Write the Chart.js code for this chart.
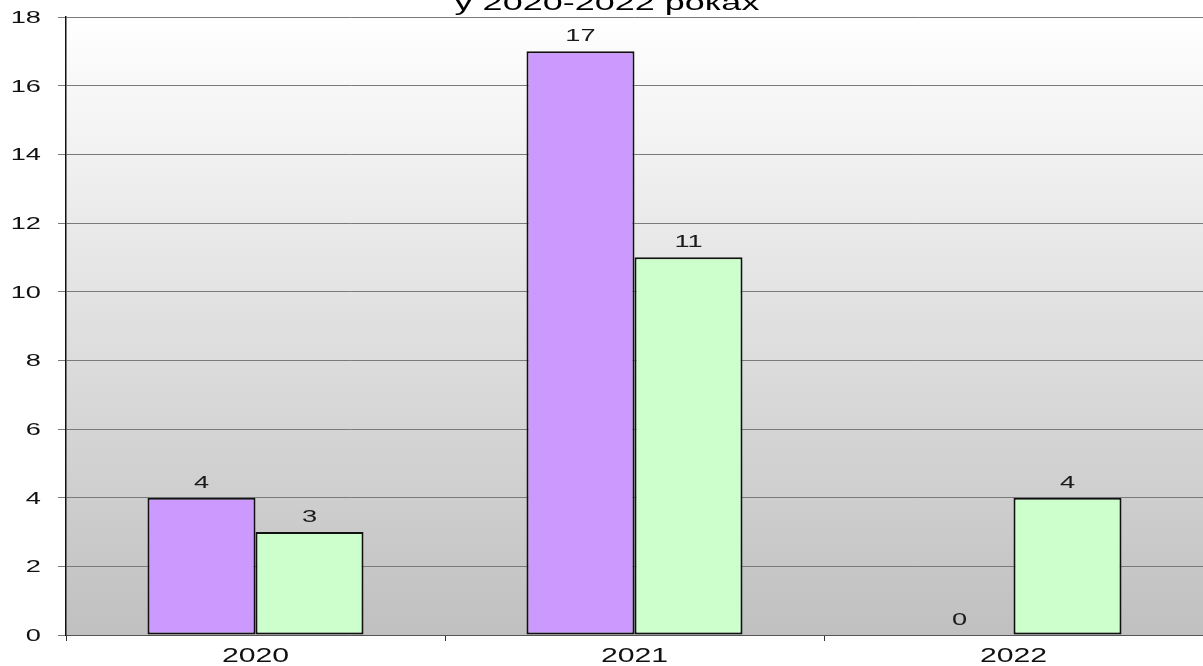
<!DOCTYPE html>
<html>
<head>
<meta charset="utf-8">
<script src="https://cdn.jsdelivr.net/npm/chart.js@4/dist/chart.umd.min.js"></script>
<style>
  html, body { margin: 0; padding: 0; background: #fff; }
  #wrap { width: 1203px; height: 666px; }
</style>
</head>
<body>
<div id="wrap"><canvas id="chart"></canvas></div>
<script>
// chart data
const titleText = 'у 2020-2022 роках';
const years = ['2020', '2021', '2022'];
const seriesA = [4, 17, 0];
const seriesB = [3, 11, 4];
const yTicks = [0, 2, 4, 6, 8, 10, 12, 14, 16, 18];

const fontFamily = '"Liberation Sans", Arial, sans-serif';

// the original text is stretched sideways, so draw it with a horizontal scale
function wideText(ctx, text, x, y, size, stretch, align) {
    ctx.save();
    ctx.font = size + 'px ' + fontFamily;
    ctx.textBaseline = 'alphabetic';
    ctx.textAlign = 'left';
    const w = ctx.measureText(text).width * stretch;
    let left = x;
    if (align === 'center') left = x - w / 2;
    if (align === 'right') left = x - w;
    ctx.translate(left, y);
    ctx.scale(stretch, 1);
    ctx.fillText(text, 0, 0);
    ctx.restore();
}

// grey gradient behind the plot area
const plotBackground = {
    id: 'plotBackground',
    beforeDraw(chart) {
        const { ctx, chartArea: a } = chart;
        const g = ctx.createLinearGradient(0, a.top, 0, a.bottom);
        g.addColorStop(0, '#ffffff');
        g.addColorStop(1, '#c0c0c0');
        ctx.save();
        ctx.fillStyle = g;
        ctx.fillRect(a.left, a.top, a.right - a.left, a.bottom - a.top);
        ctx.restore();
    }
};

// tick labels, value labels and the cut-off title
const wideLabels = {
    id: 'wideLabels',
    afterDraw(chart) {
        const ctx = chart.ctx;
        const xs = chart.scales.x;
        const ys = chart.scales.y;
        ctx.save();
        ctx.fillStyle = '#111';

        yTicks.forEach(v => {
            wideText(ctx, String(v), 41, ys.getPixelForValue(v) + 6, 17, 1.6, 'right');
        });

        years.forEach((yr, i) => {
            wideText(ctx, yr, xs.getPixelForValue(i), 662, 19.5, 1.55, 'center');
        });

        ctx.fillStyle = '#1a1a1a';
        chart.data.datasets.forEach((ds, i) => {
            chart.getDatasetMeta(i).data.forEach((bar, j) => {
                wideText(ctx, String(ds.data[j]), bar.x, bar.y - 10, 17, 1.6, 'center');
            });
        });

        ctx.fillStyle = '#000';
        wideText(ctx, titleText, 607, 10, 22.5, 1.6, 'center');
        ctx.restore();
    }
};

new Chart(document.getElementById('chart'), {
    type: 'bar',
    data: {
        labels: years,
        datasets: [{
            label: 'A',
            data: seriesA,
            backgroundColor: '#cc99ff',
            borderColor: '#111',
            borderWidth: 2,
            borderSkipped: false,
            categoryPercentage: 0.57,
            barPercentage: 1.0
        }, {
            label: 'B',
            data: seriesB,
            backgroundColor: '#ccffcc',
            borderColor: '#111',
            borderWidth: 2,
            borderSkipped: false,
            categoryPercentage: 0.57,
            barPercentage: 1.0
        }]
    },
    options: {
        responsive: true,
        maintainAspectRatio: false,
        animation: false,
        layout: { padding: { top: 17, right: 0, left: 0, bottom: 0 } },
        plugins: {
            legend: { display: false },
            tooltip: { enabled: false }
        },
        scales: {
            x: {
                offset: true,
                grid: {
                    display: true,
                    offset: true,
                    drawOnChartArea: false,
                    drawTicks: true,
                    tickLength: 6,
                    color: '#333'
                },
                border: { display: true, color: '#555', width: 1 },
                ticks: { display: false },
                afterFit(scale) { scale.height = 31; }
            },
            y: {
                min: 0,
                max: 18,
                afterBuildTicks(scale) {
                    scale.ticks = yTicks.map(v => ({ value: v }));
                },
                grid: {
                    color: '#7a7a7a',
                    lineWidth: 1,
                    drawTicks: true,
                    tickLength: 8
                },
                border: { display: true, color: '#111', width: 1.5 },
                ticks: { display: false },
                afterFit(scale) { scale.width = 66; }
            }
        }
    },
    plugins: [plotBackground, wideLabels]
});
</script>
</body>
</html>
